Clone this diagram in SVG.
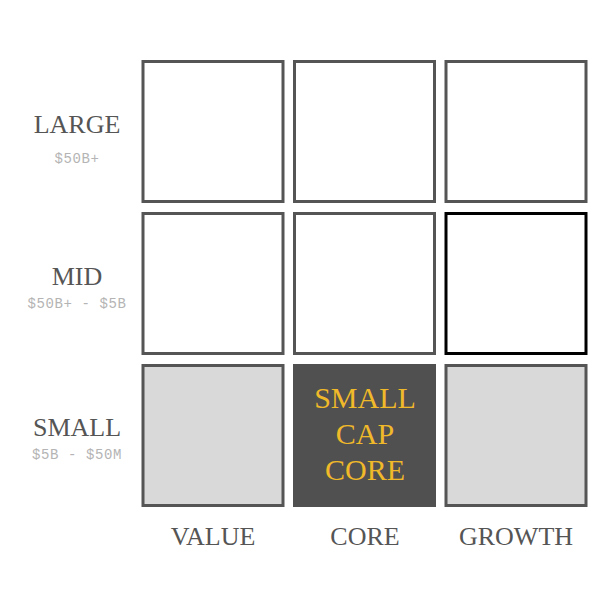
<svg xmlns="http://www.w3.org/2000/svg" width="600" height="600" viewBox="0 0 600 600">
<style>
.cell{fill:#fff;stroke:#555;stroke-width:3}
.gray{fill:#d9d9d9}
.dark{fill:#505050;stroke:#505050}
.sel{stroke:#000}
.lbl{font-family:"Liberation Serif",serif;font-size:26px;fill:#555;text-anchor:middle}
.sub{font-family:"Liberation Mono","DejaVu Sans Mono",monospace;font-size:14px;fill:#b4b4b4;text-anchor:middle;letter-spacing:0.6px}
.hl{font-family:"Liberation Serif",serif;font-size:30px;fill:#f0b92a;text-anchor:middle}
</style>
<rect width="600" height="600" fill="#fff"/>
<g id="row-labels">
<g id="label-large"><text class="lbl" x="77" y="133">LARGE</text><text class="sub" x="77" y="163">$50B+</text></g>
<g id="label-mid"><text class="lbl" x="77" y="285">MID</text><text class="sub" x="77" y="308">$50B+ - $5B</text></g>
<g id="label-small"><text class="lbl" x="77" y="436">SMALL</text><text class="sub" x="77" y="459">$5B - $50M</text></g>
</g>
<g id="col-labels">
<text class="lbl" x="213" y="545">VALUE</text>
<text class="lbl" x="365" y="545">CORE</text>
<text class="lbl" x="516" y="545">GROWTH</text>
</g>
<g id="large-value"><rect class="cell" x="143" y="61.5" width="140" height="140"/></g>
<g id="large-core"><rect class="cell" x="294.5" y="61.5" width="140" height="140"/></g>
<g id="large-growth"><rect class="cell" x="446" y="61.5" width="140" height="140"/></g>
<g id="mid-value"><rect class="cell" x="143" y="213.5" width="140" height="140"/></g>
<g id="mid-core"><rect class="cell" x="294.5" y="213.5" width="140" height="140"/></g>
<g id="mid-growth"><rect class="cell sel" x="446" y="213.5" width="140" height="140"/></g>
<g id="small-value"><rect class="cell gray" x="143" y="365.5" width="140" height="140"/></g>
<g id="small-core"><rect class="cell dark" x="294.5" y="365.5" width="140" height="140"/>
<text class="hl" x="365" y="408">SMALL</text>
<text class="hl" x="365" y="444">CAP</text>
<text class="hl" x="365" y="480">CORE</text></g>
<g id="small-growth"><rect class="cell gray" x="446" y="365.5" width="140" height="140"/></g>
<g id="connectors"/>
</svg>
